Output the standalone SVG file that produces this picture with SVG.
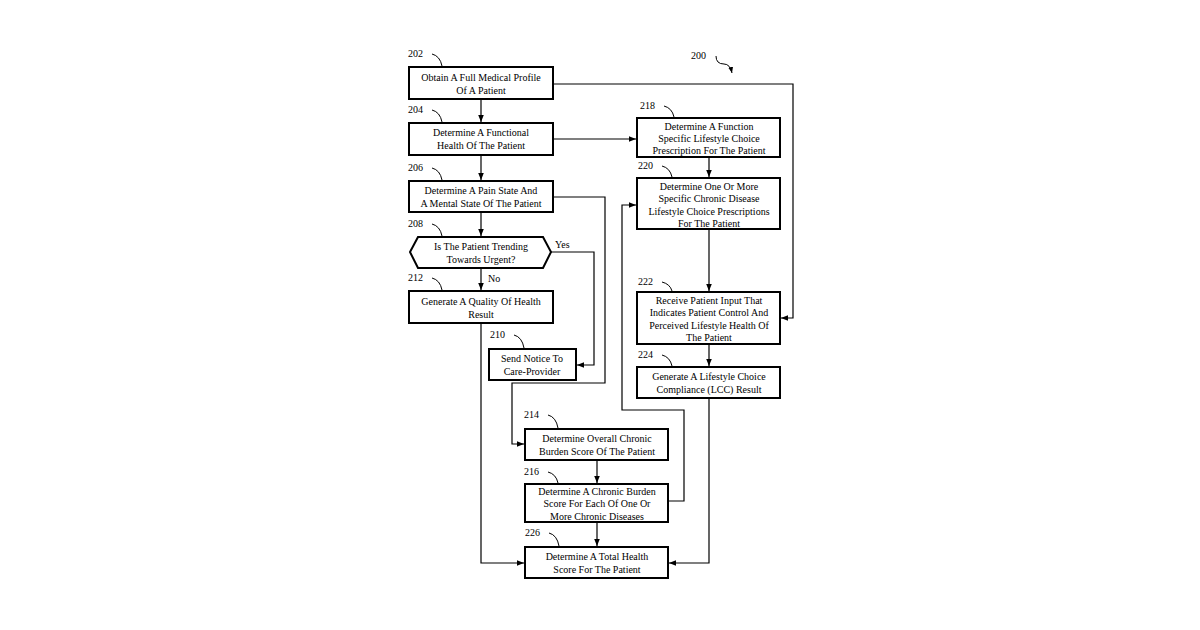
<svg xmlns="http://www.w3.org/2000/svg" width="1200" height="630" viewBox="0 0 1200 630">
<style>
.b{fill:#fff;stroke:#000;stroke-width:2}
.t{font-family:"Liberation Serif",serif;font-size:10px;text-anchor:middle;fill:#000}
.n{font-family:"Liberation Serif",serif;font-size:10px;fill:#000}
.c{fill:none;stroke:#000;stroke-width:1.2}
.h{fill:none;stroke:#000;stroke-width:1}
</style>
<defs><marker id="a" viewBox="0 0 10 10" refX="10" refY="5" markerWidth="6" markerHeight="6" orient="auto"><path d="M0,1 L10,5 L0,9 z"/></marker></defs>
<rect width="1200" height="630" fill="#fff"/>
<g id="connectors">
<path class="c" d="M553,84 H793 V318 H781" marker-end="url(#a)"/>
<path class="c" d="M481,99 V122" marker-end="url(#a)"/>
<path class="c" d="M553,139 H636" marker-end="url(#a)"/>
<path class="c" d="M481,155 V180" marker-end="url(#a)"/>
<path class="c" d="M553,197 H605 V383 H512 V444 H524" marker-end="url(#a)"/>
<path class="c" d="M481,212 V236" marker-end="url(#a)"/>
<path class="c" d="M551,252 H594 V365 H577" marker-end="url(#a)"/>
<path class="c" d="M481,268 V290" marker-end="url(#a)"/>
<path class="c" d="M481,323 V563 H524" marker-end="url(#a)"/>
<path class="c" d="M709,157 V177" marker-end="url(#a)"/>
<path class="c" d="M709,229 V291" marker-end="url(#a)"/>
<path class="c" d="M709,344 V366" marker-end="url(#a)"/>
<path class="c" d="M709,398 V563 H669" marker-end="url(#a)"/>
<path class="c" d="M668,501 H684 V410 H622 V205 H636" marker-end="url(#a)"/>
<path class="c" d="M597,460 V483" marker-end="url(#a)"/>
<path class="c" d="M597,522 V546" marker-end="url(#a)"/>
</g>
<g id="labels">
<text class="n" x="408" y="57">202</text><path class="h" d="M432,54 Q440,56 442,66"/>
<text class="n" x="408" y="113">204</text><path class="h" d="M432,110 Q440,112 442,122"/>
<text class="n" x="408" y="171">206</text><path class="h" d="M432,168 Q440,170 442,180"/>
<text class="n" x="408" y="227">208</text><path class="h" d="M432,224 Q440,226 442,236"/>
<text class="n" x="408" y="281">212</text><path class="h" d="M432,278 Q440,280 442,290"/>
<text class="n" x="490" y="338">210</text><path class="h" d="M514,335 Q522,337 524,348"/>
<text class="n" x="640" y="109">218</text><path class="h" d="M664,106 Q672,108 674,117"/>
<text class="n" x="638" y="169">220</text><path class="h" d="M662,166 Q670,168 672,177"/>
<text class="n" x="638" y="285">222</text><path class="h" d="M662,282 Q670,284 672,291"/>
<text class="n" x="638" y="358">224</text><path class="h" d="M662,355 Q670,357 672,366"/>
<text class="n" x="524" y="418">214</text><path class="h" d="M548,415 Q556,417 558,428"/>
<text class="n" x="524" y="475">216</text><path class="h" d="M548,472 Q556,474 558,483"/>
<text class="n" x="525" y="536">226</text><path class="h" d="M549,533 Q557,535 559,546"/>
<text class="n" x="691" y="59">200</text><path class="h" d="M716,56 Q716,64 724,64 Q730,64 732,73" marker-end="url(#a)"/>
<text class="n" x="555" y="248">Yes</text>
<text class="n" x="488" y="282">No</text>
</g>
<g id="n202"><rect class="b" x="409" y="67" width="144" height="32"/><text class="t" x="481" y="81">Obtain A Full Medical Profile</text><text class="t" x="481" y="94">Of A Patient</text></g>
<g id="n204"><rect class="b" x="409" y="123" width="144" height="32"/><text class="t" x="481" y="136">Determine A Functional</text><text class="t" x="481" y="149">Health Of The Patient</text></g>
<g id="n206"><rect class="b" x="409" y="181" width="144" height="31"/><text class="t" x="481" y="194">Determine A Pain State And</text><text class="t" x="481" y="207">A Mental State Of The Patient</text></g>
<g id="n208"><path class="b" d="M418,237 H543 L551,252 L543,268 H418 L410,252 Z"/><text class="t" x="481" y="250">Is The Patient Trending</text><text class="t" x="481" y="263">Towards Urgent?</text></g>
<g id="n212"><rect class="b" x="409" y="291" width="144" height="32"/><text class="t" x="481" y="305">Generate A Quality Of Health</text><text class="t" x="481" y="318">Result</text></g>
<g id="n210"><rect class="b" x="489" y="349" width="87" height="31"/><text class="t" x="532" y="362">Send Notice To</text><text class="t" x="532" y="375">Care-Provider</text></g>
<g id="n218"><rect class="b" x="637" y="118" width="143" height="39"/><text class="t" x="709" y="130">Determine A Function</text><text class="t" x="709" y="142">Specific Lifestyle Choice</text><text class="t" x="709" y="154">Prescription For The Patient</text></g>
<g id="n220"><rect class="b" x="637" y="178" width="143" height="51"/><text class="t" x="709" y="190">Determine One Or More</text><text class="t" x="709" y="202">Specific Chronic Disease</text><text class="t" x="709" y="215">Lifestyle Choice Prescriptions</text><text class="t" x="709" y="227">For The Patient</text></g>
<g id="n222"><rect class="b" x="637" y="292" width="143" height="52"/><text class="t" x="709" y="304">Receive Patient Input That</text><text class="t" x="709" y="316">Indicates Patient Control And</text><text class="t" x="709" y="329">Perceived Lifestyle Health Of</text><text class="t" x="709" y="341">The Patient</text></g>
<g id="n224"><rect class="b" x="637" y="367" width="143" height="31"/><text class="t" x="709" y="380">Generate A Lifestyle Choice</text><text class="t" x="709" y="393">Compliance (LCC) Result</text></g>
<g id="n214"><rect class="b" x="525" y="429" width="143" height="31"/><text class="t" x="597" y="442">Determine Overall Chronic</text><text class="t" x="597" y="455">Burden Score Of The Patient</text></g>
<g id="n216"><rect class="b" x="525" y="484" width="143" height="38"/><text class="t" x="597" y="495">Determine A Chronic Burden</text><text class="t" x="597" y="507">Score For Each Of One Or</text><text class="t" x="597" y="520">More Chronic Diseases</text></g>
<g id="n226"><rect class="b" x="525" y="547" width="143" height="31"/><text class="t" x="597" y="560">Determine A Total Health</text><text class="t" x="597" y="573">Score For The Patient</text></g>
</svg>
